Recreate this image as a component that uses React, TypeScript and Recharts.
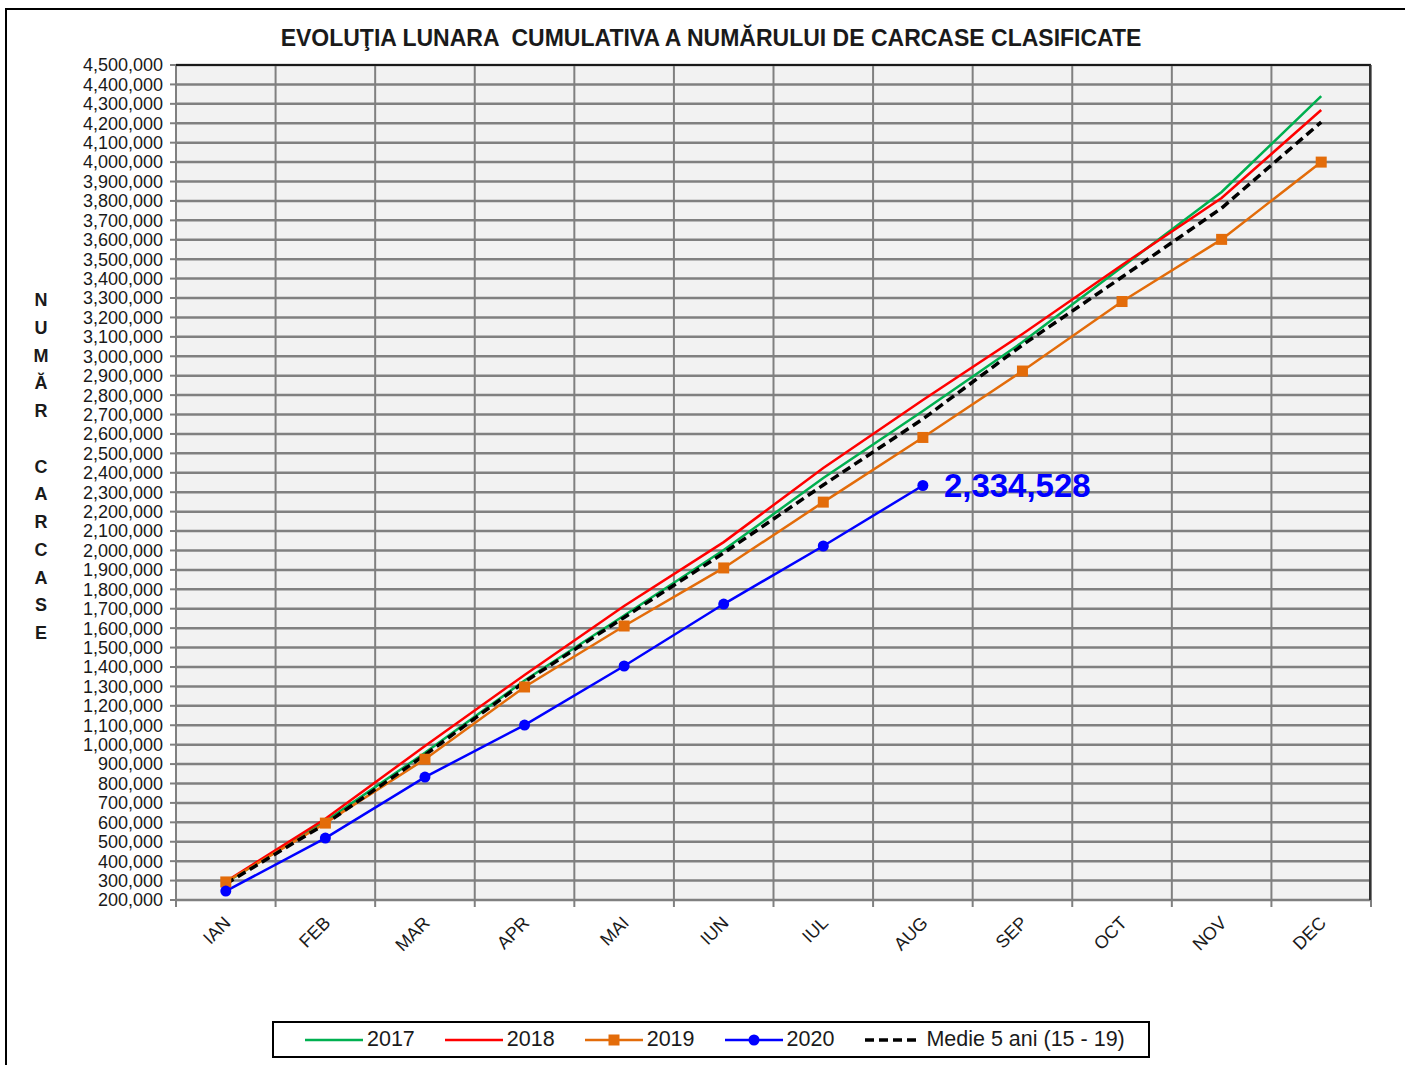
import { LineChart, Line, XAxis, YAxis, CartesianGrid, LabelList } from "recharts";

const FONT = "'Liberation Sans', Arial, sans-serif";

const months = ["IAN", "FEB", "MAR", "APR", "MAI", "IUN", "IUL", "AUG", "SEP", "OCT", "NOV", "DEC"];

const s2017 = [290000, 605000, 958000, 1330000, 1665000, 2002000, 2373000, 2718000, 3073000, 3460000, 3846000, 4340000];
const s2018 = [295000, 618000, 993000, 1359000, 1714000, 2043000, 2425000, 2775000, 3115000, 3470000, 3815000, 4268000];
const s2019 = [293000, 596000, 925000, 1297000, 1611000, 1910000, 2249000, 2582000, 2924000, 3282000, 3602000, 4000000];
const s2020 = [246000, 519000, 833000, 1101000, 1405000, 1724000, 2023000, 2334528];
const medie = [283000, 592000, 947000, 1323000, 1655000, 1987000, 2337000, 2677000, 3058000, 3408000, 3763000, 4206000];

const yTicks = Array.from({ length: 44 }, (_, i) => 200000 + i * 100000);

const legendItems = [
  { name: "2017", color: "#00b050", marker: "none" },
  { name: "2018", color: "#ff0000", marker: "none" },
  { name: "2019", color: "#e36c0a", marker: "square" },
  { name: "2020", color: "#0000ff", marker: "circle" },
  { name: "Medie 5 ani (15 - 19)", color: "#000000", marker: "dash" },
];

const yLabel = "NUMĂR CARCASE".split("");

const data = months.map((m, i) => ({
  month: m,
  y2017: s2017[i],
  y2018: s2018[i],
  y2019: s2019[i],
  y2020: s2020[i],
  medie: medie[i],
}));

const fmt = (v: number) => v.toLocaleString("en-US");

const MonthTick = (props: any) => {
  const { x, y, payload, index, width } = props;
  const half = width / 24;
  const ax = x + 6;
  const ay = y + 22;
  return (
    <g>
      <line x1={x - half} y1={y - 2} x2={x - half} y2={y + 5} stroke="#808080" strokeWidth={2} />
      {index === months.length - 1 && (
        <line x1={x + half} y1={y - 2} x2={x + half} y2={y + 5} stroke="#808080" strokeWidth={2} />
      )}
      <text
        x={ax}
        y={ay}
        textAnchor="end"
        fontSize={18}
        fontFamily={FONT}
        fill="#1a1a1a"
        transform={`rotate(-45, ${ax}, ${ay})`}
      >
        {payload.value}
      </text>
    </g>
  );
};

const SquareDot = (props: any) => {
  const { cx, cy, index } = props;
  if (cx == null || cy == null) return <g key={index} />;
  return <rect key={index} x={cx - 5.5} y={cy - 5.5} width={11} height={11} fill="#e36c0a" />;
};

const EndLabel = (props: any) => {
  const { x, y, index, value } = props;
  if (index !== s2020.length - 1) return null;
  return (
    <text x={x + 21} y={y} dy={11} fill="#0000ff" fontSize={33} fontWeight="bold" fontFamily={FONT}>
      {fmt(value)}
    </text>
  );
};

function LegendIcon({ color, marker }: { color: string; marker: string }) {
  return (
    <svg width={58} height={20} style={{ display: "block" }}>
      {marker === "dash" ? (
        <line x1={1} y1={10} x2={57} y2={10} stroke={color} strokeWidth={3.5} strokeDasharray="9 5" />
      ) : (
        <line x1={0} y1={10} x2={58} y2={10} stroke={color} strokeWidth={2.5} />
      )}
      {marker === "square" && <rect x={23.5} y={4.5} width={11} height={11} fill={color} />}
      {marker === "circle" && <circle cx={29} cy={10} r={5.5} fill={color} />}
    </svg>
  );
}

export default function App() {
  return (
    <div
      style={{
        position: "absolute",
        left: 0,
        top: 0,
        width: 1405,
        height: 1065,
        overflow: "hidden",
        background: "#ffffff",
        fontFamily: FONT,
      }}
    >
      <div
        style={{
          position: "absolute",
          left: 5,
          top: 8,
          width: 1430,
          height: 1090,
          border: "2px solid #000",
        }}
      />
      <div
        style={{
          position: "absolute",
          left: 0,
          width: 1422,
          top: 25,
          textAlign: "center",
          fontSize: 23,
          fontWeight: "bold",
          whiteSpace: "pre",
          color: "#1a1a1a",
        }}
      >
        {"EVOLUŢIA LUNARA  CUMULATIVA A NUMĂRULUI DE CARCASE CLASIFICATE"}
      </div>
      <div
        style={{
          position: "absolute",
          left: 21,
          width: 40,
          top: 287,
          textAlign: "center",
          fontSize: 18,
          fontWeight: "bold",
          lineHeight: "27.75px",
          color: "#1a1a1a",
        }}
      >
        {yLabel.map((c, i) => (
          <div key={i} style={{ height: 27.75 }}>
            {c === " " ? "\u00a0" : c}
          </div>
        ))}
      </div>

      <div style={{ position: "absolute", left: 0, top: 0 }}>
        <LineChart
          width={1405}
          height={1065}
          data={data}
          margin={{ top: 65, right: 34, left: 76, bottom: 105 }}
        >
          <CartesianGrid
            fill="#f2f2f2"
            stroke="#808080"
            strokeWidth={2.5}
            vertical={false}
          />
          <CartesianGrid
            stroke="#808080"
            strokeWidth={2}
            horizontal={false}
            verticalCoordinatesGenerator={({ offset }: any) =>
              Array.from({ length: months.length + 1 }, (_, i) => offset.left + (i * offset.width) / months.length)
            }
          />
          <XAxis
            dataKey="month"
            scale="band"
            interval={0}
            height={60}
            tickLine={false}
            tickSize={0}
            axisLine={{ stroke: "#808080", strokeWidth: 2 }}
            tick={<MonthTick />}
          />
          <YAxis
            width={100}
            domain={[200000, 4500000]}
            ticks={yTicks}
            interval={0}
            allowDataOverflow
            tickFormatter={fmt}
            tickSize={6}
            tickMargin={7}
            axisLine={{ stroke: "#808080", strokeWidth: 2 }}
            tickLine={{ stroke: "#808080", strokeWidth: 2 }}
            tick={{ fontSize: 18, fontFamily: FONT, fill: "#1a1a1a" }}
          />
          <Line dataKey="y2017" stroke="#00b050" strokeWidth={2.5} dot={false} isAnimationActive={false} />
          <Line dataKey="y2018" stroke="#ff0000" strokeWidth={2.5} dot={false} isAnimationActive={false} />
          <Line
            dataKey="y2019"
            stroke="#e36c0a"
            strokeWidth={2.5}
            dot={<SquareDot />}
            isAnimationActive={false}
          />
          <Line
            dataKey="y2020"
            stroke="#0000ff"
            strokeWidth={2.5}
            dot={{ r: 5.5, fill: "#0000ff", stroke: "#0000ff", strokeWidth: 0 }}
            isAnimationActive={false}
          >
            <LabelList dataKey="y2020" content={<EndLabel />} />
          </Line>
          <Line
            dataKey="medie"
            stroke="#000000"
            strokeWidth={3.5}
            strokeDasharray="9 5"
            dot={false}
            isAnimationActive={false}
          />
        </LineChart>
      </div>

      <div
        style={{
          position: "absolute",
          left: 176,
          top: 64,
          width: 1195,
          height: 836,
          borderTop: "2px solid #1a1a1a",
          borderRight: "2px solid #333",
          boxSizing: "border-box",
          pointerEvents: "none",
        }}
      />

      <div
        style={{
          position: "absolute",
          left: 272,
          top: 1021,
          width: 878,
          height: 37,
          boxSizing: "border-box",
          border: "2px solid #000",
          background: "#fff",
          display: "flex",
          alignItems: "center",
          paddingLeft: 31,
          gap: 30,
          fontSize: 21.5,
          color: "#1a1a1a",
        }}
      >
        {legendItems.map((it) => (
          <div key={it.name} style={{ display: "flex", alignItems: "center", gap: 4 }}>
            <LegendIcon color={it.color} marker={it.marker} />
            <span>{it.name}</span>
          </div>
        ))}
      </div>
    </div>
  );
}
